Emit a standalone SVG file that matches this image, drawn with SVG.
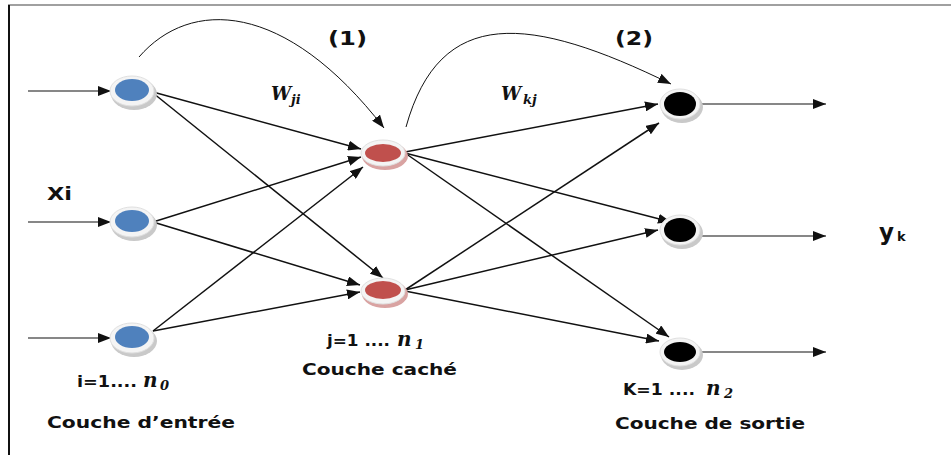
<svg xmlns="http://www.w3.org/2000/svg" width="951" height="455" viewBox="0 0 951 455">
<style>
.lbl{font-family:"DejaVu Sans","Liberation Sans",sans-serif;font-weight:bold;fill:#111}
.math{font-family:"DejaVu Serif","Liberation Serif",serif;font-style:italic;font-weight:bold;fill:#111}
.edge{stroke:#111;stroke-width:1.5;fill:none;marker-end:url(#ah)}
.io{stroke:#111;stroke-width:1.2;fill:none;marker-end:url(#ah)}
.curve{stroke:#111;stroke-width:1;fill:none;marker-end:url(#ah)}
.ring{fill:#f4f4f4;stroke:#e0e0e0;stroke-width:1}
.shadow{fill:#c9c9c9}
</style>
<defs>
<marker id="ah" markerUnits="userSpaceOnUse" markerWidth="14" markerHeight="10" refX="13" refY="5" orient="auto">
<path d="M0,0 L13,5 L0,10 z" fill="#111"/>
</marker>
</defs>
<rect x="0" y="0" width="951" height="455" fill="#fff"/>
<line x1="8" y1="5" x2="951" y2="5" stroke="#a0a0a0" stroke-width="2"/>
<line x1="9" y1="5" x2="9" y2="455" stroke="#111" stroke-width="2"/>

<g id="connectors">
<line class="io" x1="28" y1="91" x2="111" y2="91"/>
<line class="io" x1="28" y1="222" x2="111" y2="222"/>
<line class="io" x1="28" y1="338" x2="111" y2="338"/>
<line class="edge" x1="153" y1="92" x2="361" y2="149"/>
<line class="edge" x1="153" y1="93" x2="383" y2="278"/>
<line class="edge" x1="153" y1="222" x2="361" y2="157"/>
<line class="edge" x1="153" y1="222" x2="360" y2="285"/>
<line class="edge" x1="153" y1="331" x2="363" y2="167"/>
<line class="edge" x1="153" y1="331" x2="360" y2="292"/>
<line class="edge" x1="405" y1="152" x2="658" y2="104"/>
<line class="edge" x1="405" y1="153" x2="671" y2="222"/>
<line class="edge" x1="405" y1="153" x2="669" y2="337"/>
<line class="edge" x1="405" y1="290" x2="659" y2="123"/>
<line class="edge" x1="405" y1="290" x2="658" y2="230"/>
<line class="edge" x1="405" y1="291" x2="659" y2="341"/>
<line class="io" x1="701" y1="104" x2="826" y2="104"/>
<line class="io" x1="701" y1="236" x2="826" y2="236"/>
<line class="io" x1="701" y1="352" x2="826" y2="352"/>
<path class="curve" d="M139,57 C190,-2 285,0 384,128"/>
<path class="curve" d="M406,127 C440,5 530,15 671,84"/>
</g>

<g id="in1"><ellipse class="shadow" cx="134" cy="94" rx="23" ry="16"/><ellipse class="ring" cx="132" cy="91" rx="22" ry="15"/><ellipse cx="132" cy="90" rx="17" ry="11" fill="#4F81BD"/></g>
<g id="in2"><ellipse class="shadow" cx="134" cy="225" rx="23" ry="16"/><ellipse class="ring" cx="132" cy="222" rx="22" ry="15"/><ellipse cx="132" cy="221" rx="17" ry="11" fill="#4F81BD"/></g>
<g id="in3"><ellipse class="shadow" cx="134" cy="341" rx="23" ry="16"/><ellipse class="ring" cx="132" cy="338" rx="22" ry="15"/><ellipse cx="132" cy="337" rx="17" ry="11" fill="#4F81BD"/></g>

<g id="h1"><ellipse cx="385" cy="156" rx="23" ry="14" fill="#d9a3a2"/><ellipse class="ring" cx="383" cy="153" rx="22" ry="13"/><ellipse cx="383" cy="153" rx="18" ry="9" fill="#C0504D"/></g>
<g id="h2"><ellipse cx="385" cy="294" rx="23" ry="14" fill="#d9a3a2"/><ellipse class="ring" cx="383" cy="291" rx="22" ry="13"/><ellipse cx="383" cy="290" rx="18" ry="9" fill="#C0504D"/></g>

<g id="out1"><ellipse class="shadow" cx="682" cy="107" rx="21" ry="16"/><ellipse class="ring" cx="680" cy="104" rx="20" ry="15"/><ellipse cx="680" cy="104" rx="16" ry="12" fill="#000"/></g>
<g id="out2"><ellipse class="shadow" cx="682" cy="233" rx="21" ry="16"/><ellipse class="ring" cx="680" cy="230" rx="20" ry="15"/><ellipse cx="680" cy="230" rx="16" ry="12" fill="#000"/></g>
<g id="out3"><ellipse class="shadow" cx="682" cy="355" rx="21" ry="15"/><ellipse class="ring" cx="680" cy="352" rx="20" ry="14"/><ellipse cx="680" cy="352" rx="16" ry="10" fill="#000"/></g>

<g id="labels">
<text class="lbl" x="328" y="45" font-size="20" textLength="39" lengthAdjust="spacingAndGlyphs">(1)</text>
<text class="lbl" x="615" y="45" font-size="20" textLength="38" lengthAdjust="spacingAndGlyphs">(2)</text>
<text class="math" x="271" y="100" font-size="18">W</text><text class="math" x="291" y="104" font-size="13">ji</text>
<text class="math" x="501" y="100" font-size="18">W</text><text class="math" x="523" y="104" font-size="13">kj</text>
<text class="lbl" x="47" y="200" font-size="17" textLength="25" lengthAdjust="spacingAndGlyphs">Xi</text>
<text class="lbl" x="879" y="240" font-size="23">y</text><text class="lbl" x="897" y="241" font-size="13">k</text>
<text class="lbl" x="77" y="387" font-size="15" textLength="60" lengthAdjust="spacingAndGlyphs">i=1....</text><text class="math" x="143" y="387" font-size="20" font-weight="normal">n</text><text class="math" x="160" y="390" font-size="13" font-weight="normal">0</text>
<text class="lbl" x="327" y="346" font-size="15" textLength="63" lengthAdjust="spacingAndGlyphs">j=1 ....</text><text class="math" x="397" y="346" font-size="20" font-weight="normal">n</text><text class="math" x="415" y="349" font-size="13" font-weight="normal">1</text>
<text class="lbl" x="623" y="395" font-size="15" textLength="72" lengthAdjust="spacingAndGlyphs">K=1 ....</text><text class="math" x="706" y="395" font-size="20" font-weight="normal">n</text><text class="math" x="724" y="398" font-size="13" font-weight="normal">2</text>
<text class="lbl" x="47" y="428" font-size="16" textLength="188" lengthAdjust="spacingAndGlyphs">Couche d’entrée</text>
<text class="lbl" x="302" y="375" font-size="16" textLength="155" lengthAdjust="spacingAndGlyphs">Couche caché</text>
<text class="lbl" x="615" y="429" font-size="16" textLength="190" lengthAdjust="spacingAndGlyphs">Couche de sortie</text>
</g>
</svg>
